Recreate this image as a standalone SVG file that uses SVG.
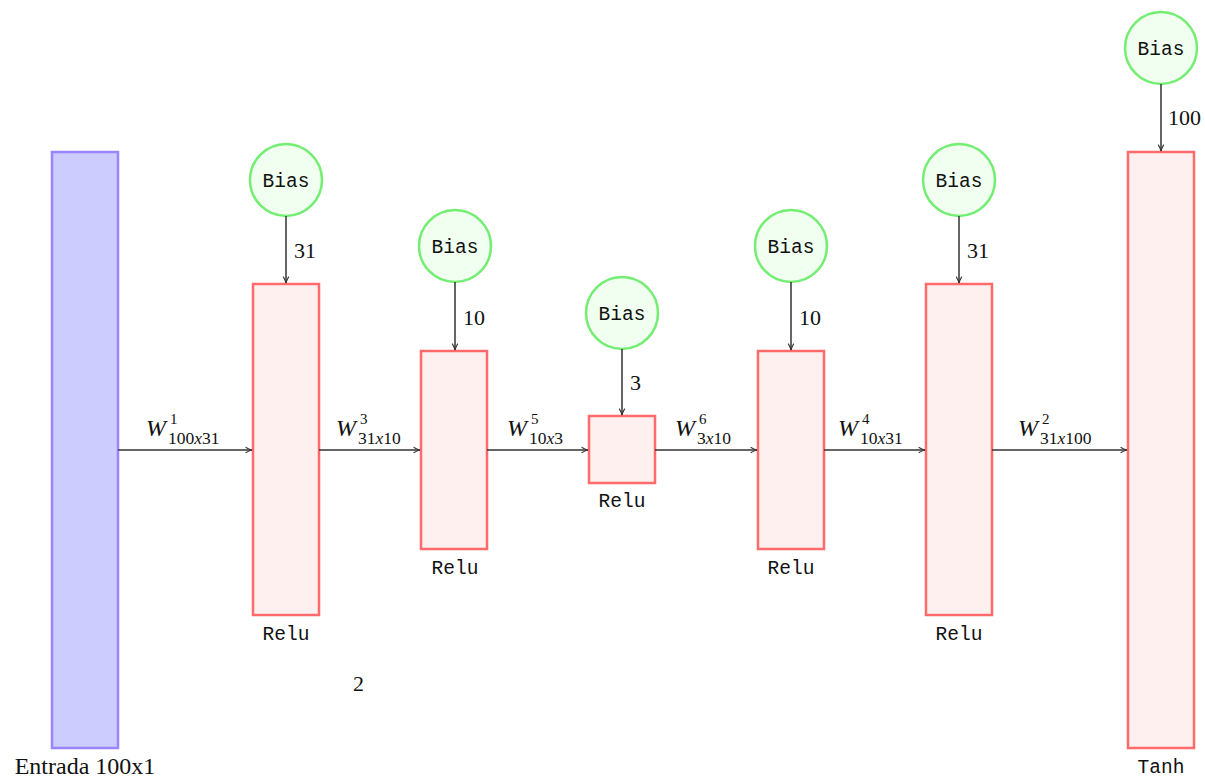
<svg xmlns="http://www.w3.org/2000/svg" width="1205" height="777" viewBox="0 0 1205 777">
<defs>
<marker id="arr" viewBox="0 0 10 10" refX="9" refY="5" markerWidth="8" markerHeight="8" markerUnits="userSpaceOnUse" orient="auto">
<path d="M1,1.5 Q5,4 9,5 Q5,6 1,8.5" fill="none" stroke="#333" stroke-width="1.3"/>
</marker>
<style>
.in{fill:#ccccff;stroke:#9985ff;stroke-width:2.5}
.ly{fill:#fff0f0;stroke:#ff6a6a;stroke-width:2.5}
.bias{fill:#f0fff0;stroke:#73ee73;stroke-width:2.5}
.mono{font-family:"Liberation Mono",monospace;font-size:19.5px;fill:#111;text-anchor:middle}
.num{font-family:"Liberation Serif",serif;font-size:22px;fill:#111}
.lbl{font-family:"Liberation Serif",serif;font-size:24px;fill:#111;text-anchor:middle}
.w{font-family:"Liberation Serif",serif;font-style:italic;font-size:24px;fill:#111}
.s{font-family:"Liberation Serif",serif;font-size:17.5px;fill:#111}
.p{font-family:"Liberation Serif",serif;font-size:15px;fill:#111}
.si{font-style:italic}
.c{fill:none;stroke:#333;stroke-width:1.5}
</style>
</defs>
<rect width="1205" height="777" fill="#fff"/>
<g id="input">
<rect class="in" x="52" y="152" width="66" height="596"/>
<text class="lbl" x="85" y="774">Entrada 100x1</text>
</g>
<g id="layer1">
<rect class="ly" x="253" y="284" width="66" height="331"/>
<text class="mono" x="286" y="640">Relu</text>
</g>
<g id="bias1">
<circle class="bias" cx="286" cy="180" r="36"/>
<text class="mono" x="286" y="187">Bias</text>
</g>
<g id="layer2">
<rect class="ly" x="421" y="351" width="66" height="198"/>
<text class="mono" x="455" y="574">Relu</text>
</g>
<g id="bias2">
<circle class="bias" cx="455" cy="246" r="36"/>
<text class="mono" x="455" y="253">Bias</text>
</g>
<g id="layer3">
<rect class="ly" x="589" y="416" width="66" height="67"/>
<text class="mono" x="622" y="507">Relu</text>
</g>
<g id="bias3">
<circle class="bias" cx="622" cy="313" r="36"/>
<text class="mono" x="622" y="320">Bias</text>
</g>
<g id="layer4">
<rect class="ly" x="758" y="351" width="66" height="198"/>
<text class="mono" x="791" y="574">Relu</text>
</g>
<g id="bias4">
<circle class="bias" cx="791" cy="246" r="36"/>
<text class="mono" x="791" y="253">Bias</text>
</g>
<g id="layer5">
<rect class="ly" x="926" y="284" width="66" height="331"/>
<text class="mono" x="959" y="640">Relu</text>
</g>
<g id="bias5">
<circle class="bias" cx="959" cy="180" r="36"/>
<text class="mono" x="959" y="187">Bias</text>
</g>
<g id="output">
<rect class="ly" x="1128" y="152" width="66" height="596"/>
<text class="mono" x="1161" y="773">Tanh</text>
</g>
<g id="bias6">
<circle class="bias" cx="1161" cy="48" r="36"/>
<text class="mono" x="1161" y="55">Bias</text>
</g>
<g id="connectors">
<line class="c" x1="118" y1="450" x2="252" y2="450" marker-end="url(#arr)"/>
<line class="c" x1="319" y1="450" x2="420" y2="450" marker-end="url(#arr)"/>
<line class="c" x1="487" y1="450" x2="588" y2="450" marker-end="url(#arr)"/>
<line class="c" x1="655" y1="450" x2="757" y2="450" marker-end="url(#arr)"/>
<line class="c" x1="824" y1="450" x2="925" y2="450" marker-end="url(#arr)"/>
<line class="c" x1="992" y1="450" x2="1127" y2="450" marker-end="url(#arr)"/>
<line class="c" x1="286" y1="216" x2="286" y2="283" marker-end="url(#arr)"/>
<line class="c" x1="455" y1="282" x2="455" y2="350" marker-end="url(#arr)"/>
<line class="c" x1="622" y1="349" x2="622" y2="415" marker-end="url(#arr)"/>
<line class="c" x1="791" y1="282" x2="791" y2="350" marker-end="url(#arr)"/>
<line class="c" x1="959" y1="216" x2="959" y2="283" marker-end="url(#arr)"/>
<line class="c" x1="1161" y1="84" x2="1161" y2="151" marker-end="url(#arr)"/>
<text class="num" x="294" y="258">31</text>
<text class="num" x="463" y="325">10</text>
<text class="num" x="630" y="390">3</text>
<text class="num" x="799" y="325">10</text>
<text class="num" x="967" y="258">31</text>
<text class="num" x="1168" y="125">100</text>
<text class="w" x="146" y="436">W</text><text class="p" x="170" y="424">1</text><text class="s" x="168" y="444">100<tspan class="si">x</tspan>31</text>
<text class="w" x="336" y="436">W</text><text class="p" x="360" y="424">3</text><text class="s" x="358" y="444">31<tspan class="si">x</tspan>10</text>
<text class="w" x="507" y="436">W</text><text class="p" x="531" y="424">5</text><text class="s" x="529" y="444">10<tspan class="si">x</tspan>3</text>
<text class="w" x="675" y="436">W</text><text class="p" x="699" y="424">6</text><text class="s" x="697" y="444">3<tspan class="si">x</tspan>10</text>
<text class="w" x="838" y="436">W</text><text class="p" x="862" y="424">4</text><text class="s" x="860" y="444">10<tspan class="si">x</tspan>31</text>
<text class="w" x="1018" y="436">W</text><text class="p" x="1042" y="424">2</text><text class="s" x="1040" y="444">31<tspan class="si">x</tspan>100</text>
<text class="num" x="353" y="691">2</text>
</g>
</svg>
